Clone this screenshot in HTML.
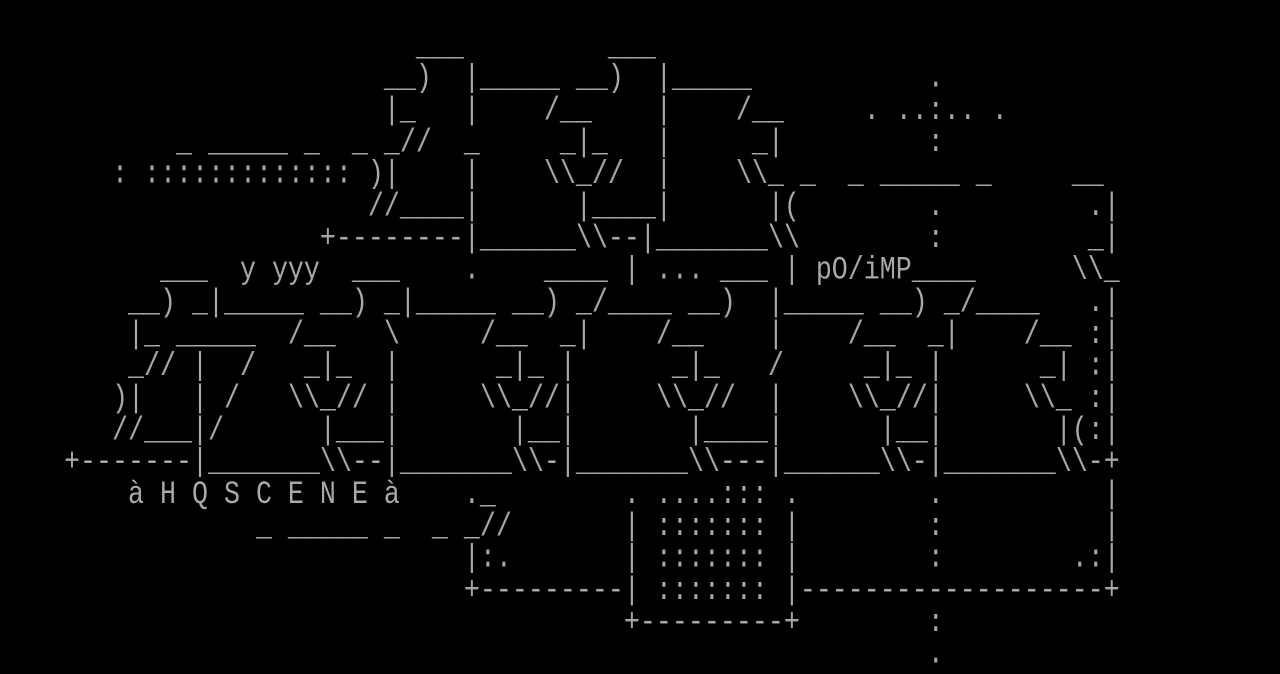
<!DOCTYPE html>
<html><head><meta charset="utf-8"><style>
html,body{margin:0;padding:0;background:#000;width:1280px;height:672px;overflow:hidden}
pre{position:absolute;left:0;top:0;margin:0;font-family:"Liberation Mono",monospace;font-size:26.6667px;line-height:26.6667px;color:#a8a8a8;white-space:pre;transform:scaleY(1.2);transform-origin:0 0}
</style></head><body><pre>

                          ___         ___
                        __)  |_____ __)  |_____           .
                        |_   |    /__    |    /__     . ..:.. .
           _ _____ _  _ _//  _     _|_   |     _|         :
       : ::::::::::::: )|    |    \\_//  |    \\_ _  _ _____ _     __
                       //____|      |____|      |(        .         .|
                    +--------|______\\--|_______\\        :         _|
          ___  y yyy  ___    .    ____ | ... ___ | pO/iMP____      \\_
        __) _|_____ __) _|_____ __) _/____ __)  |_____ __) _/____   .|
        |_ _____  /__   \     /__  _|    /__    |    /__  _|    /__ :|
        _// |  /   _|_  |      _|_ |      _|_   /     _|_ |      _| :|
       )|   | /   \\_// |     \\_//|     \\_//  |    \\_//|     \\_ :|
       //___|/      |___|       |__|       |____|      |__|       |(:|
    +-------|_______\\--|_______\\-|_______\\---|______\\-|_______\\-+
        à H Q S C E N E à    ._        . ....::: .        .          |
                _ _____ _  _ _//       | ::::::: |        :          |
                             |:.       | ::::::: |        :        .:|
                             +---------| ::::::: |-------------------+
                                       +---------+        :
                                                          .
</pre></body></html>
